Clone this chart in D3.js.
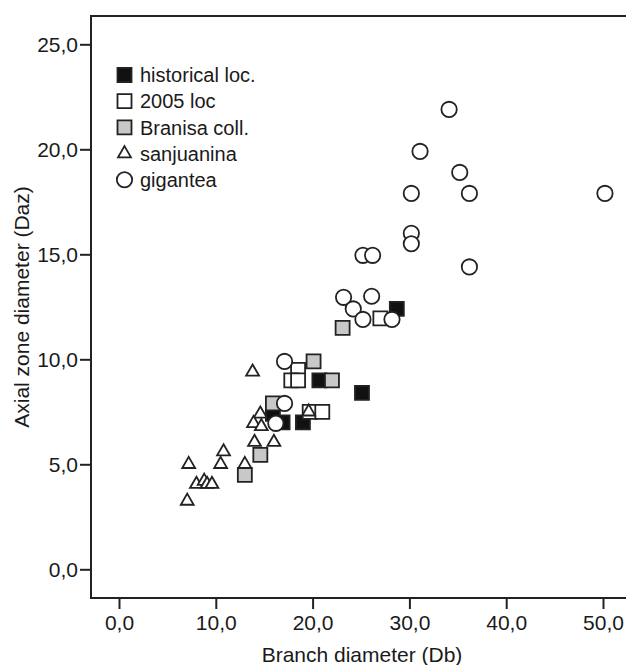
<!DOCTYPE html>
<meta charset="utf-8">
<style>
  body { margin: 0; background: #fff; overflow: hidden; }
  svg { display: block; }
  text { font-family: "Liberation Sans", Arial, sans-serif; fill: #1a1a1a; }
  .tick line { stroke: #222; stroke-width: 2px; }
</style>

<body>
  <script src="https://d3js.org/d3.v7.min.js"></script>
  <script>

    // data: [Db, Daz]
    var historical = [[28.7, 12.4], [20.7, 9.0], [25.1, 8.4], [15.9, 7.4], [16.9, 7.0], [19.0, 7.0]];
    var loc2005 = [[27.0, 11.95], [18.5, 9.5], [17.8, 9.0], [18.5, 9.0], [19.7, 7.5], [21.0, 7.5]];
    var branisa = [[23.1, 11.5], [20.1, 9.9], [22.0, 9.0], [15.9, 7.9], [14.6, 5.45], [13.0, 4.5]];
    var sanjuanina = [[13.8, 9.4], [14.6, 7.4], [19.6, 7.5], [13.9, 6.95], [14.7, 6.8], [14.0, 6.05],
      [16.0, 6.05], [10.8, 5.6], [7.2, 5.0], [10.5, 5.0], [13.0, 5.0], [8.0, 4.05], [8.8, 4.2],
      [9.1, 4.05], [9.6, 4.05], [7.05, 3.25]];
    var gigantea = [[34.1, 21.9], [31.1, 19.9], [35.2, 18.9], [30.2, 17.9], [36.2, 17.9], [50.2, 17.9],
      [30.2, 16.0], [30.2, 15.5], [25.2, 14.95], [26.2, 14.95], [36.2, 14.4], [23.2, 12.95],
      [26.1, 13.0], [24.2, 12.4], [25.2, 11.9], [28.2, 11.9], [17.1, 9.9], [17.1, 7.9], [16.2, 6.95]];

    var xTicks = [0, 10, 20, 30, 40, 50];
    var yTicks = [0, 5, 10, 15, 20, 25];
    var legendLabels = ["historical loc.", "2005 loc", "Branisa coll.", "sanjuanina", "gigantea"];

    var width = 626, height = 665;
    // plot frame runs past the right edge of the picture
    var frame = { left: 91, top: 16, right: 645, bottom: 598 };

    var x = d3.scaleLinear().domain([0, 50]).range([119, 603]);
    var y = d3.scaleLinear().domain([0, 25]).range([569.3, 44.3]);

    var fmt = function (d) { return d3.format(".1f")(d).replace(".", ","); };

    var svg = d3.select("body").append("svg")
      .attr("width", width)
      .attr("height", height);

    // frame: top, left and bottom sides (right side is off the picture)
    svg.append("path")
      .attr("d", "M" + frame.right + "," + frame.top + "H" + frame.left + "V" + frame.bottom + "H" + frame.right)
      .attr("fill", "none")
      .attr("stroke", "#222")
      .attr("stroke-width", 2);

    var gx = svg.append("g")
      .attr("transform", "translate(0," + frame.bottom + ")")
      .call(d3.axisBottom(x).tickValues(xTicks).tickFormat(fmt).tickSize(11).tickPadding(6));
    gx.select(".domain").remove();
    gx.selectAll("text").style("font-size", "21px");

    var gy = svg.append("g")
      .attr("transform", "translate(" + frame.left + ",0)")
      .call(d3.axisLeft(y).tickValues(yTicks).tickFormat(fmt).tickSize(11).tickPadding(2));
    gy.select(".domain").remove();
    gy.selectAll("text").style("font-size", "21px");

    // axis titles
    svg.append("text")
      .attr("x", 362)
      .attr("y", 662)
      .attr("text-anchor", "middle")
      .style("font-size", "21px")
      .text("Branch diameter (Db)");

    svg.append("text")
      .attr("transform", "translate(29," + (frame.top + frame.bottom) / 2 + ") rotate(-90)")
      .attr("text-anchor", "middle")
      .style("font-size", "21px")
      .text("Axial zone diameter (Daz)");

    var sq = d3.symbol().type(d3.symbolSquare).size(196);
    var tri = d3.symbol().type(d3.symbolTriangle).size(72);
    var circ = d3.symbol().type(d3.symbolCircle).size(185);

    var series = [
      { data: historical, sym: sq, fill: "#111" },
      { data: loc2005, sym: sq, fill: "#fff" },
      { data: branisa, sym: sq, fill: "#c8c8c8" },
      { data: sanjuanina, sym: tri, fill: "#fff" },
      { data: gigantea, sym: circ, fill: "#fff" }
    ];

    series.forEach(function (s) {
      svg.append("g").selectAll("path")
        .data(s.data)
        .enter().append("path")
        .attr("d", s.sym)
        .attr("transform", function (d) { return "translate(" + x(d[0]) + "," + y(d[1]) + ")"; })
        .attr("fill", s.fill)
        .attr("stroke", "#222")
        .attr("stroke-width", 1.8);
    });

    // legend
    var legend = svg.append("g").selectAll("g")
      .data(series)
      .enter().append("g")
      .attr("transform", function (d, i) { return "translate(124.5," + (75 + i * 26.2) + ")"; });

    legend.append("path")
      .attr("d", function (d) { return d.sym(); })
      .attr("fill", function (d) { return d.fill; })
      .attr("stroke", "#222")
      .attr("stroke-width", 1.8);

    legend.append("text")
      .attr("x", 15.5)
      .attr("dy", "0.36em")
      .style("font-size", "20px")
      .text(function (d, i) { return legendLabels[i]; });

  </script>

</body>

</html>
